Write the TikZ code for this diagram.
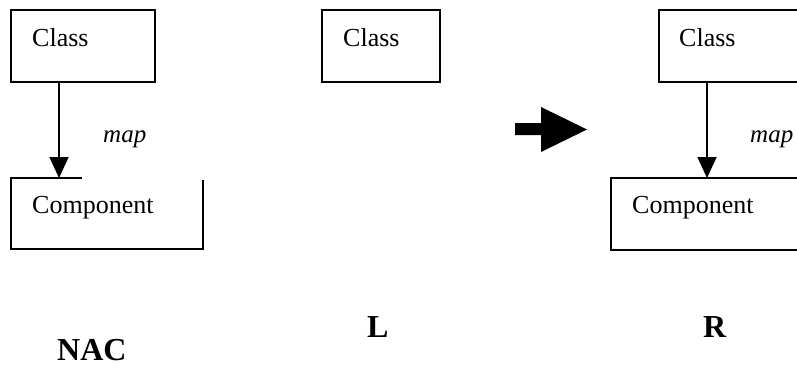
\documentclass[tikz,border=0pt]{standalone}
\usepackage{fontspec}
\setmainfont{Liberation Serif}
\usetikzlibrary{arrows.meta}
\tikzset{
  box/.style={draw=black, line width=2.2pt, rectangle, inner sep=0pt, outer sep=0pt, anchor=north west},
  nodraw/.style={rectangle, inner sep=0pt, outer sep=0pt, anchor=north west},
  boxtext/.style={anchor=base west, inner sep=0pt, font=\fontsize{26}{30}\selectfont},
  maptext/.style={anchor=base west, inner sep=0pt, font=\fontsize{25}{30}\selectfont\itshape},
  paneltext/.style={anchor=base west, inner sep=0pt, font=\fontsize{32}{36}\selectfont\bfseries},
  arr/.style={line width=1.8pt, -{Triangle[width=19pt,length=21pt]}},
}
\begin{document}
\begin{tikzpicture}[x=1pt,y=-1pt]
\useasboundingbox (0,0) rectangle (797,367);
\clip (0,0) rectangle (797,367);
% NAC
\node[box, minimum width=144pt, minimum height=72pt] (c1) at (11,10) {};
\node[boxtext] (t1) at (32,46) {Class};
\node[nodraw, minimum width=192pt, minimum height=71pt] (k1) at (11,178) {};
\draw[line width=2.2pt, line join=miter] ([xshift=71pt]k1.north west) -- (k1.north west) -- (k1.south west) -- (k1.south east) -- ([yshift=-2pt]k1.north east);
\node[boxtext] (u1) at (32,213) {Component};
\draw[arr] ([xshift=48pt]c1.south west) -- ([xshift=48pt]k1.north west);
\node[maptext] (m1) at (103,142) {map};
\node[paneltext] (nac) at (57,360) {NAC};
% L
\node[box, minimum width=118pt, minimum height=72pt] (c2) at (322,10) {};
\node[boxtext] (t2) at (343,46) {Class};
\node[paneltext] (lab) at (367,337) {L};
% big arrow
\fill[black] (515,123) -- (541,123) -- (541,107) -- (587,129.5) -- (541,152) -- (541,135) -- (515,135) -- cycle;
% R
\node[box, minimum width=170pt, minimum height=72pt] (c3) at (659,10) {};
\node[boxtext] (t3) at (679,46) {Class};
\node[box, minimum width=220pt, minimum height=72pt] (k3) at (611,178) {};
\node[boxtext] (u3) at (632,213) {Component};
\draw[arr] ([xshift=48pt]c3.south west) -- ([xshift=96pt]k3.north west);
\node[maptext] (m3) at (750,142) {map};
\node[paneltext] (rab) at (703,337) {R};
\end{tikzpicture}
\end{document}
